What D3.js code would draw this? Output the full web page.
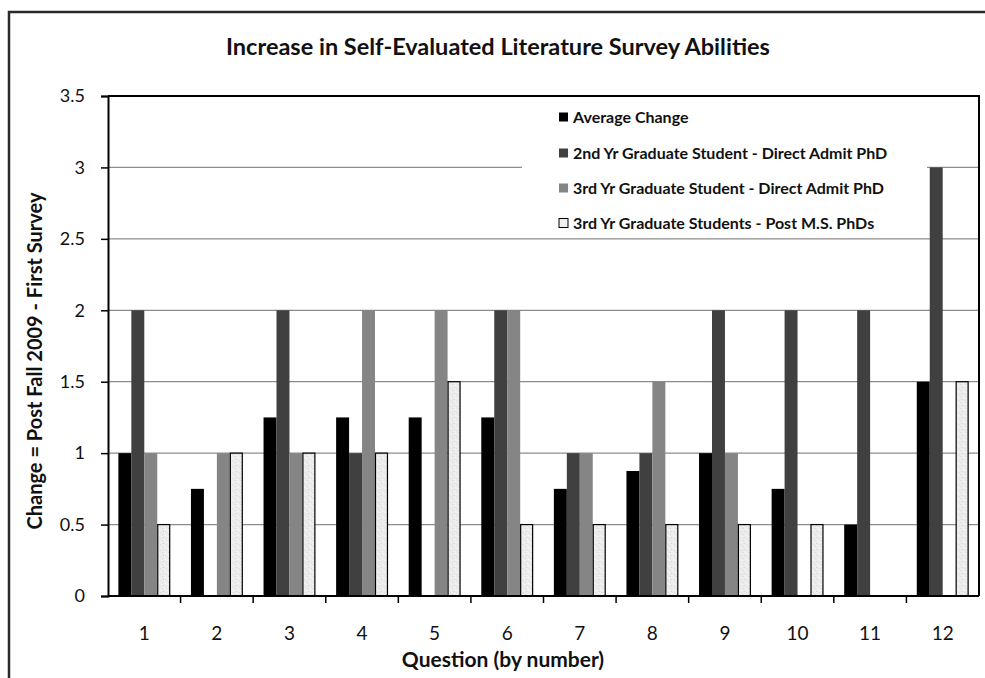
<!DOCTYPE html>
<html>
<head>
<meta charset="utf-8">
<script src="https://cdn.jsdelivr.net/npm/d3@7/dist/d3.min.js"></script>
<style>
  html, body { margin: 0; padding: 0; background: #fff; }
  svg { display: block; font-family: Lato, "Open Sans", sans-serif; }
</style>
</head>
<body>
<svg id="chart" width="985" height="678"></svg>
<script>
// Survey questions 1–12
const questions = ["1","2","3","4","5","6","7","8","9","10","11","12"];

// Change in self-evaluated ability (post Fall 2009 minus first survey)
const averageChange   = [1, 0.75, 1.25, 1.25, 1.25, 1.25, 0.75, 0.875, 1, 0.75, 0.5, 1.5];
const secondYrDirect  = [2, 0,    2,    1,    0,    2,    1,    1,     2, 2,    2,   3];
const thirdYrDirect   = [1, 1,    1,    2,    2,    2,    1,    1.5,   1, 0,    0,   0];
const thirdYrPostMS   = [0.5, 1,  1,    1,    1.5,  0.5,  0.5,  0.5,   0.5, 0.5, 0,   1.5];

const seriesNames = [
  "Average Change",
  "2nd Yr Graduate Student - Direct Admit PhD",
  "3rd Yr Graduate Student - Direct Admit PhD",
  "3rd Yr Graduate Students - Post M.S. PhDs"
];
const yTicks = [0, 0.5, 1, 1.5, 2, 2.5, 3, 3.5];

const series = [averageChange, secondYrDirect, thirdYrDirect, thirdYrPostMS];
const fills = ["#000000", "#404040", "#858585", "url(#speckle)"];

const svg = d3.select("#chart");

// speckled light fill for the post-M.S. series
const defs = svg.append("defs");
const pat = defs.append("pattern")
  .attr("id", "speckle").attr("patternUnits", "userSpaceOnUse")
  .attr("width", 6).attr("height", 6);
pat.append("rect").attr("width", 6).attr("height", 6).attr("fill", "#ececec");
[[0,0,"#d4d4d4"],[3,1,"#f8f8f8"],[1,3,"#cfcfcf"],[4,4,"#dcdcdc"],[5,2,"#f6f6f6"],[2,5,"#f4f4f4"]]
  .forEach(([px, py, c]) => pat.append("rect").attr("x", px).attr("y", py)
    .attr("width", 1).attr("height", 1).attr("fill", c));

// outer chart frame
svg.append("rect")
  .attr("x", 9).attr("y", 12).attr("width", 990).attr("height", 700)
  .attr("fill", "none").attr("stroke", "#2a2a2a").attr("stroke-width", 2.5);

const plotLeft = 108, plotRight = 979, plotTop = 96, plotBottom = 596;

const x0 = d3.scaleBand().domain(questions).range([plotLeft, plotRight]).paddingInner(0).paddingOuter(0);
const x1 = d3.scaleBand().domain(d3.range(series.length)).range([0, x0.bandwidth()])
  .paddingInner(0).paddingOuter(0.8);
const y = d3.scaleLinear().domain([0, 3.5]).range([plotBottom, plotTop]);

// horizontal gridlines
svg.append("g").selectAll("line").data(yTicks.slice(1, -1)).join("line")
  .attr("x1", plotLeft).attr("x2", plotRight)
  .attr("y1", d => y(d)).attr("y2", d => y(d))
  .attr("stroke", "#8c8c8c").attr("stroke-width", 1.2);

// legend backdrop hides the gridlines behind it
svg.append("rect")
  .attr("x", 522).attr("y", plotTop + 1).attr("width", 405).attr("height", 139)
  .attr("fill", "#fff");

// bars
const groups = svg.append("g").selectAll("g").data(questions).join("g")
  .attr("transform", d => `translate(${x0(d)},0)`);
groups.selectAll("rect")
  .data((q, qi) => series.map((s, si) => ({ si, v: s[qi] })).filter(d => d.v > 0))
  .join("rect")
  .attr("x", d => x1(d.si) + (d.si === 3 ? 0.5 : 0))
  .attr("width", d => x1.bandwidth() - (d.si === 3 ? 1 : 0))
  .attr("y", d => y(d.v))
  .attr("height", d => y(0) - y(d.v))
  .attr("fill", d => fills[d.si])
  .attr("stroke", d => d.si === 3 ? "#000" : "none")
  .attr("stroke-width", 1.2);

// plot frame (top and right)
svg.append("path")
  .attr("d", `M${plotLeft},${plotTop}H${plotRight}V${plotBottom}`)
  .attr("fill", "none").attr("stroke", "#000").attr("stroke-width", 2);

// y axis
const yAxis = svg.append("g").attr("transform", `translate(${plotLeft},0)`)
  .call(d3.axisLeft(y).tickValues(yTicks).tickSize(7).tickPadding(16)
    .tickFormat(d => String(d)));
yAxis.select(".domain").attr("stroke", "#000").attr("stroke-width", 2);
yAxis.selectAll(".tick line").attr("stroke", "#000").attr("stroke-width", 1.5);
yAxis.selectAll(".tick text").attr("font-size", 18).attr("fill", "#111")
  .attr("font-family", "Lato, sans-serif");

// x axis: ticks between categories
const xAxisG = svg.append("g").attr("transform", `translate(0,${plotBottom})`);
xAxisG.append("line").attr("x1", plotLeft).attr("x2", plotRight)
  .attr("stroke", "#000").attr("stroke-width", 2);
xAxisG.selectAll("line.tick").data(questions.slice(1)).join("line")
  .attr("class", "tick")
  .attr("x1", d => x0(d)).attr("x2", d => x0(d))
  .attr("y1", 0).attr("y2", 7)
  .attr("stroke", "#000").attr("stroke-width", 1.5);
xAxisG.selectAll("text").data(questions).join("text")
  .attr("x", d => x0(d) + x0.bandwidth() / 2)
  .attr("y", 44)
  .attr("text-anchor", "middle")
  .attr("font-size", 19).attr("fill", "#111")
  .text(d => d);

// title
svg.append("text")
  .attr("x", 498).attr("y", 55)
  .attr("text-anchor", "middle")
  .attr("font-size", 23.5).attr("font-weight", "bold").attr("fill", "#111")
  .text("Increase in Self-Evaluated Literature Survey Abilities");

// axis titles
svg.append("text")
  .attr("x", 503).attr("y", 667)
  .attr("text-anchor", "middle")
  .attr("font-size", 21).attr("font-weight", "bold").attr("fill", "#111")
  .text("Question (by number)");
svg.append("text")
  .attr("transform", "translate(42,361) rotate(-90)")
  .attr("text-anchor", "middle")
  .attr("font-size", 20).attr("font-weight", "bold").attr("fill", "#111")
  .text("Change = Post Fall 2009 - First Survey");

// legend
const legend = svg.append("g").attr("transform", "translate(559,0)");
const legendY = [117, 153, 188, 223];
seriesNames.forEach((name, i) => {
  legend.append("rect")
    .attr("x", 0).attr("y", legendY[i] - 4.5).attr("width", 9).attr("height", 9)
    .attr("fill", fills[i] === "url(#speckle)" ? "#f0f0f0" : fills[i])
    .attr("stroke", i === 3 ? "#000" : "none").attr("stroke-width", 1);
  legend.append("text")
    .attr("x", 14).attr("y", legendY[i]).attr("dy", "0.35em")
    .attr("font-size", 16).attr("font-weight", "bold").attr("fill", "#111")
    .text(name);
});
</script>
</body>
</html>
